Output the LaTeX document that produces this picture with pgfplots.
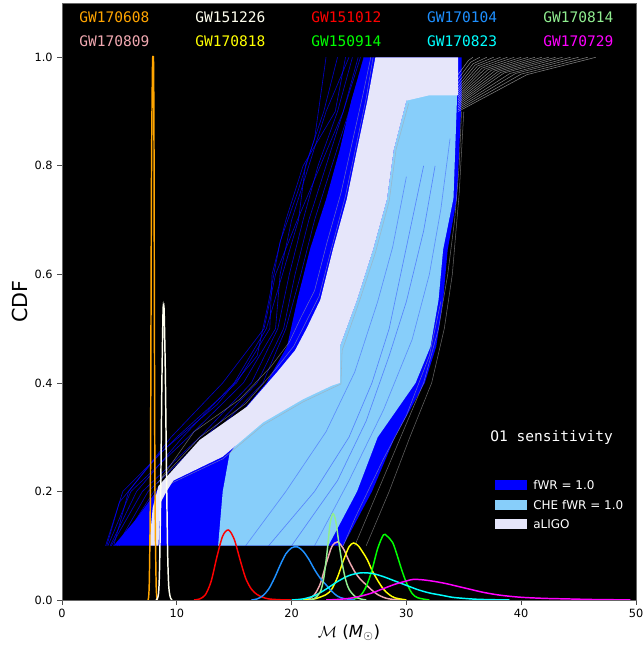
\documentclass[border=0pt]{standalone}
\usepackage{pgfplots}
\pgfplotsset{compat=1.18}
\usepackage{fontspec}
\setmainfont{DejaVu Sans}
\newfontfamily\monofont{DejaVu Sans Mono}
\definecolor{gwOrange}{HTML}{FFA500}
\definecolor{gwIvory}{HTML}{FFFFF0}
\definecolor{gwRed}{HTML}{FF0000}
\definecolor{gwDodger}{HTML}{1E90FF}
\definecolor{gwLightGreen}{HTML}{90EE90}
\definecolor{gwPink}{HTML}{F0A8B0}
\definecolor{gwYellow}{HTML}{FFFF00}
\definecolor{gwLime}{HTML}{00FF00}
\definecolor{gwCyan}{HTML}{00FFFF}
\definecolor{gwMagenta}{HTML}{FF00FF}
\definecolor{fwrBlue}{HTML}{0000FF}
\definecolor{cheBlue}{HTML}{87CEFA}
\definecolor{ligoLav}{HTML}{E6E6FA}
\pgfplotsset{
  sparse/.style={fwrBlue, opacity=0.8, line width=0.45pt},
  fan/.style={white!85!gray, opacity=0.55, line width=0.4pt},
  fringe/.style={gray!70, opacity=0.6, line width=0.4pt},
  gw/.style={line width=1.1pt, smooth, tension=0.5},
}
\begin{document}
\begin{tikzpicture}
\begin{axis}[
  width=430.5pt, height=447.75pt, scale only axis,
  xmin=0, xmax=50, ymin=0, ymax=1.1,
  axis background/.style={fill=black},
  axis line style={black!60},
  xtick={0,10,20,30,40,50},
  ytick={0,0.2,0.4,0.6,0.8,1.0},
  tick align=outside, tick pos=left,
  major tick length=3.5pt,
  every tick/.style={black!70, line width=0.6pt},
  /pgf/number format/assume math mode=true,
  ticklabel style={font=\fontsize{8.5}{10}\selectfont},
  yticklabel style={/pgf/number format/.cd, fixed, fixed zerofill, precision=1},
  xticklabel style={/pgf/number format/.cd, fixed, precision=0},
  xlabel={$\mathcal{M}$ (\textit{M}$_{\odot}$)},
  ylabel={CDF},
  every axis x label/.style={at={(axis description cs:0.5,-0.0553)}, anchor=center, font=\fontsize{12.5}{14}\selectfont},
  every axis y label/.style={at={(axis description cs:-0.0732,0.5)}, anchor=center, rotate=90, font=\fontsize{15.5}{18}\selectfont},
]
% --- fWR = 1.0 : sparse individual curves ---
\addplot[sparse] coordinates {(3.8,0.1) (5.3,0.2) (10,0.3) (15.2,0.4) (18.1,0.5) (18.3,0.6) (19.5,0.7) (21.0,0.8) (23.8,0.9) (24.7,1.0)};
\addplot[sparse] coordinates {(4.0,0.1) (6.0,0.2) (11,0.3) (15.8,0.4) (18.6,0.5) (19.0,0.6) (20.0,0.7) (21.5,0.8) (23.0,0.9) (25.0,1.0)};
\addplot[sparse] coordinates {(4.3,0.1) (7.0,0.2) (12,0.3) (16.5,0.4) (18.8,0.5) (19.8,0.6) (21.0,0.7) (22.3,0.8) (24.0,0.9) (25.3,1.0)};
\addplot[sparse] coordinates {(4.5,0.1) (5.8,0.2) (9.5,0.3) (14.0,0.4) (17.6,0.5) (18.6,0.6) (20.5,0.7) (22.5,0.8) (24.5,0.9) (25.8,1.0)};
\addplot[sparse] coordinates {(4.8,0.1) (7.5,0.2) (12.5,0.3) (17.0,0.4) (19.3,0.5) (20.3,0.6) (21.5,0.7) (23.0,0.8) (24.5,0.9) (26.0,1.0)};
\addplot[sparse] coordinates {(5.0,0.1) (8.0,0.2) (13.0,0.3) (17.5,0.4) (19.5,0.5) (20.8,0.6) (22.0,0.7) (23.5,0.8) (25.0,0.9) (26.3,1.0)};
\addplot[sparse] coordinates {(4.2,0.1) (6.5,0.2) (10.5,0.3) (15.0,0.4) (17.8,0.5) (19.2,0.6) (20.6,0.7) (21.2,0.8) (22.8,0.9) (24.0,1.0)};
\addplot[sparse] coordinates {(3.9,0.1) (5.0,0.18) (8.5,0.27) (13.5,0.36) (17.0,0.45) (18.0,0.55) (19.0,0.66) (20.5,0.75) (22.0,0.85) (23.0,1.0)};
% --- fWR = 1.0 : dense ---
\addplot[draw=none, fill=fwrBlue] coordinates {
 (4.5,0.1) (6.5,0.15) (8.2,0.2) (11,0.27) (15,0.33) (17.8,0.4) (19.6,0.467) (20.5,0.553) (21.6,0.646) (23,0.738) (24.2,0.83) (25.2,0.92) (26.3,1.0)
 (34.8,1.0) (34.8,0.92) (34.4,0.74) (33.6,0.646) (33.2,0.553) (32.6,0.467) (31.6,0.4) (29,0.3) (27,0.2) (24.5,0.1)} -- cycle;
% grey curves on the right side
\addplot[fringe] coordinates {(25.5,0.1) (27.5,0.2) (29.5,0.3) (31.5,0.4) (32.8,0.5) (33.6,0.6) (34.2,0.7) (34.6,0.8) (34.8,0.9)};
\addplot[fringe] coordinates {(26.5,0.1) (28.5,0.2) (30.3,0.3) (32.2,0.4) (33.3,0.5) (34.0,0.6) (34.6,0.75) (35.0,0.9)};
\addplot[fringe] coordinates {(24.5,0.1) (25.5,0.15) (28.0,0.26) (30.0,0.34) (32.0,0.45) (33.0,0.55)};
% --- CHE fWR = 1.0 ---
\addplot[draw=none, fill=cheBlue] coordinates {
 (13.6,0.1) (14.0,0.2) (14.6,0.27) (16,0.31) (20,0.37) (23,0.43) (24.2,0.467) (25.7,0.553) (27.1,0.646) (28.3,0.738) (28.9,0.83) (30,0.92) (31.5,0.94) (34.4,0.95)
 (34.4,0.92) (34.1,0.74) (33.2,0.646) (32.8,0.553) (32.1,0.467) (30.8,0.4) (27.5,0.3) (25.7,0.2) (23.2,0.1)} -- cycle;
% darker streaks inside CHE band
\addplot[fwrBlue, opacity=0.35, line width=0.5pt] coordinates {(18,0.1) (22,0.2) (25,0.3) (27,0.4) (28.5,0.5) (29.5,0.6) (30.5,0.7) (31.5,0.8)};
\addplot[fwrBlue, opacity=0.35, line width=0.5pt] coordinates {(20,0.1) (24,0.22) (26.5,0.33) (28.5,0.45) (30,0.55) (31.5,0.68) (32.5,0.8)};
\addplot[fwrBlue, opacity=0.3, line width=0.5pt] coordinates {(16,0.1) (19.5,0.2) (23,0.31) (25.5,0.42) (27.5,0.55) (28.8,0.65) (30,0.78)};
\addplot[fwrBlue, opacity=0.3, line width=0.5pt] coordinates {(22,0.1) (25,0.22) (28,0.35) (30.5,0.48) (32,0.6) (33,0.72) (33.8,0.85)};
% --- aLIGO ---
\addplot[draw=none, fill=ligoLav] coordinates {
 (7.6,0.1) (8.4,0.1) (8.6,0.18) (9.1,0.2) (9.7,0.22) (14,0.264) (17.5,0.327) (21,0.37) (23.5,0.395) (24.2,0.40)
 (24.2,0.467) (25.7,0.553) (27.1,0.646) (28.3,0.738) (28.9,0.83) (30,0.92) (32,0.93) (34.5,0.93) (34.5,1.0)
 (27.3,1.0) (26.6,0.92) (25.7,0.83) (24.8,0.738) (23.6,0.646) (22.5,0.553) (21.3,0.5) (20.3,0.46) (18.7,0.419) (16.1,0.356) (12,0.295) (8.4,0.21) (7.9,0.17)} -- cycle;
% grey fringe lines along aLIGO band
\addplot[fringe] coordinates {(8.3,0.215) (12,0.3) (16,0.362) (18.6,0.425) (20.2,0.468) (21.2,0.51) (22.4,0.56) (23.5,0.65) (24.7,0.745) (25.6,0.835) (26.5,0.925) (27.1,1.0)};
\addplot[fringe] coordinates {(8.5,0.22) (11.5,0.31) (15.5,0.37) (18.2,0.43) (19.8,0.475) (20.8,0.52) (22.0,0.57) (23.1,0.66) (24.3,0.75) (25.3,0.845) (26.2,0.93) (26.9,1.0)};
\addplot[fringe] coordinates {(9.5,0.215) (14,0.26) (17.5,0.322) (21,0.365) (24.3,0.398) (24.4,0.46) (25.9,0.55) (27.3,0.64) (28.5,0.735) (29.1,0.83) (30.2,0.915)};
% top-right fan of aLIGO curves
\addplot[fan] coordinates {(34.5,0.900) (40.5,0.968) (46.5,1.0)};
\addplot[fan] coordinates {(34.5,0.903) (40,0.969) (45.8,1.0)};
\addplot[fan] coordinates {(34.5,0.906) (39.5,0.970) (45,1.0)};
\addplot[fan] coordinates {(34.5,0.909) (39,0.970) (44.3,1.0)};
\addplot[fan] coordinates {(34.5,0.912) (38.5,0.971) (43.6,1.0)};
\addplot[fan] coordinates {(34.5,0.915) (38.2,0.972) (43,1.0)};
\addplot[fan] coordinates {(34.5,0.918) (38,0.974) (42.4,1.0)};
\addplot[fan] coordinates {(34.5,0.921) (37.7,0.975) (41.8,1.0)};
\addplot[fan] coordinates {(34.5,0.924) (37.4,0.976) (41.2,1.0)};
\addplot[fan] coordinates {(34.5,0.927) (37.1,0.977) (40.6,1.0)};
\addplot[fan] coordinates {(34.5,0.930) (36.8,0.978) (40,1.0)};
\addplot[fan] coordinates {(34.5,0.934) (36.6,0.980) (39.4,1.0)};
\addplot[fan] coordinates {(34.5,0.938) (36.4,0.982) (38.8,1.0)};
\addplot[fan] coordinates {(34.5,0.942) (36.2,0.984) (38.2,1.0)};
\addplot[fan] coordinates {(34.5,0.947) (36,0.986) (37.6,1.0)};
\addplot[fan] coordinates {(34.5,0.953) (35.8,0.988) (37,1.0)};
\addplot[fan] coordinates {(34.5,0.960) (35.6,0.991) (36.4,1.0)};
\addplot[fan] coordinates {(34.5,0.968) (35.4,0.994) (35.8,1.0)};
% --- posterior curves (plotting order as in the reference) ---
\addplot[gw, gwOrange] coordinates {
 (7.5,0) (7.6,0.03) (7.7,0.2) (7.75,0.5) (7.8,0.8) (7.88,0.98) (7.93,1.0) (7.98,0.98) (8.02,0.8) (8.05,0.5) (8.1,0.2) (8.2,0.03) (8.3,0)};
\addplot[gw, gwPink] coordinates {
 (21,0) (21.5,0.002) (22,0.01) (22.5,0.03) (23,0.066) (23.5,0.098) (24,0.107) (24.5,0.095) (25,0.072) (25.5,0.052) (26,0.038) (26.5,0.028) (27,0.018) (27.5,0.01) (28,0.005) (28.5,0.002) (29.5,0)};
\addplot[gw, gwIvory] coordinates {
 (8.2,0) (8.4,0.01) (8.5,0.06) (8.6,0.2) (8.7,0.4) (8.8,0.53) (8.85,0.54) (8.9,0.53) (9.0,0.42) (9.1,0.24) (9.2,0.09) (9.3,0.025) (9.45,0.004) (9.6,0)};
\addplot[gw, gwYellow] coordinates {
 (21,0) (22,0.002) (23,0.01) (23.5,0.02) (24,0.042) (24.5,0.072) (25,0.098) (25.4,0.105) (25.8,0.1) (26.2,0.088) (26.6,0.074) (27,0.055) (27.5,0.036) (28,0.02) (28.5,0.01) (29,0.004) (30,0)};
\addplot[gw, gwRed] coordinates {
 (11.5,0) (12,0.002) (12.5,0.01) (13,0.035) (13.5,0.08) (14,0.118) (14.5,0.129) (15,0.112) (15.5,0.075) (16,0.04) (16.5,0.02) (17,0.01) (17.5,0.005) (18,0.002) (19,0.0005) (20,0)};
\addplot[gw, gwLime] coordinates {
 (25,0) (25.5,0.002) (26,0.008) (26.5,0.025) (27,0.055) (27.5,0.095) (28,0.12) (28.3,0.118) (28.8,0.106) (29.2,0.082) (29.6,0.055) (30,0.032) (30.5,0.012) (31,0.004) (32,0)};
\addplot[gw, gwDodger] coordinates {
 (16.5,0) (17,0.002) (17.5,0.008) (18,0.02) (18.5,0.04) (19,0.064) (19.5,0.085) (20,0.096) (20.5,0.098) (21,0.09) (21.5,0.075) (22,0.056) (22.5,0.04) (23,0.028) (23.5,0.016) (24,0.007) (24.5,0.003) (25.5,0)};
\addplot[gw, gwCyan] coordinates {
 (20,0) (21,0.002) (22,0.008) (23,0.02) (24,0.034) (25,0.045) (26,0.05) (27,0.049) (28,0.043) (29,0.035) (30,0.027) (31,0.019) (32,0.013) (33,0.009) (34,0.005) (35,0.003) (36,0.0015) (37,0.0008) (39,0)};
\addplot[gw, gwLightGreen] coordinates {
 (21.5,0) (22,0.003) (22.5,0.015) (22.8,0.04) (23.1,0.09) (23.35,0.14) (23.6,0.159) (23.85,0.145) (24.1,0.108) (24.4,0.068) (24.7,0.038) (25,0.02) (25.5,0.007) (26,0.002) (26.5,0)};
\addplot[gw, gwMagenta] coordinates {
 (23,0) (24,0.001) (25,0.003) (26,0.007) (27,0.013) (28,0.021) (29,0.029) (30,0.035) (30.6,0.038) (31.5,0.037) (32.5,0.034) (33.5,0.03) (34.5,0.025) (35.5,0.02) (36.5,0.015) (37.5,0.011) (38.5,0.008) (40,0.005) (42,0.003) (44,0.002) (46,0.001) (48,0.0005) (49.5,0.0002)};
% --- top legend (text only) ---
\begin{scope}[every node/.style={anchor=west, inner sep=0pt, font=\monofont\fontsize{10.9}{13}\selectfont}]
\node[text=gwOrange]     at (axis cs:1.48,1.074) {GW170608};
\node[text=gwIvory]      at (axis cs:11.59,1.074) {GW151226};
\node[text=gwRed]        at (axis cs:21.69,1.074) {GW151012};
\node[text=gwDodger]     at (axis cs:31.79,1.074) {GW170104};
\node[text=gwLightGreen] at (axis cs:41.9,1.074) {GW170814};
\node[text=gwPink]       at (axis cs:1.48,1.0295) {GW170809};
\node[text=gwYellow]     at (axis cs:11.59,1.0295) {GW170818};
\node[text=gwLime]       at (axis cs:21.69,1.0295) {GW150914};
\node[text=gwCyan]       at (axis cs:31.79,1.0295) {GW170823};
\node[text=gwMagenta]    at (axis cs:41.9,1.0295) {GW170729};
\node[text=white]        at (axis cs:37.3,0.299) {O1 sensitivity};
\end{scope}
% --- lower legend ---
\fill[fwrBlue]  (axis cs:37.72,0.203) rectangle (axis cs:40.5,0.221);
\fill[cheBlue]  (axis cs:37.72,0.166) rectangle (axis cs:40.5,0.184);
\fill[ligoLav]  (axis cs:37.72,0.131) rectangle (axis cs:40.5,0.149);
\begin{scope}[every node/.style={anchor=west, inner sep=0pt, text=white, font=\fontsize{9}{11}\selectfont}]
\node at (axis cs:41.03,0.212) {fWR = 1.0};
\node at (axis cs:41.03,0.175) {CHE fWR = 1.0};
\node at (axis cs:41.03,0.140) {aLIGO};
\end{scope}
\end{axis}
\pgfresetboundingbox
\path ([shift={(-46.5pt,-36pt)}]current axis.south west) rectangle ([shift={(5.25pt,2.25pt)}]current axis.north east);
\end{tikzpicture}
\end{document}
